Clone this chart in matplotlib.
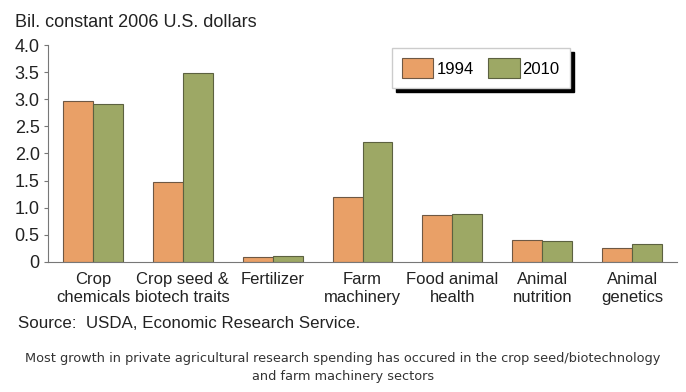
import matplotlib.pyplot as plt
import numpy as np

plt.rcParams["font.family"] = ["Liberation Sans", "DejaVu Sans"]

# data
categories = ["Crop\nchemicals", "Crop seed &\nbiotech traits", "Fertilizer",
              "Farm\nmachinery", "Food animal\nhealth", "Animal\nnutrition",
              "Animal\ngenetics"]
values_1994 = [2.97, 1.47, 0.09, 1.19, 0.86, 0.41, 0.25]
values_2010 = [2.91, 3.48, 0.10, 2.22, 0.88, 0.39, 0.33]
yticks = [0, 0.5, 1.0, 1.5, 2.0, 2.5, 3.0, 3.5, 4.0]
ytick_labels = ["0", "0.5", "1.0", "1.5", "2.0", "2.5", "3.0", "3.5", "4.0"]

fig = plt.figure(figsize=(6.86, 3.92), dpi=100)
ax = fig.add_axes([0.07, 0.332, 0.917, 0.553])

x = np.arange(len(categories))
w = 0.333
ax.bar(x - w / 2, values_1994, w, color="#E9A067", edgecolor="#6e5844",
       linewidth=0.8, label="1994", zorder=2)
ax.bar(x + w / 2, values_2010, w, color="#9DA865", edgecolor="#5c6140",
       linewidth=0.8, label="2010", zorder=2)

ax.set_xlim(-0.5, 6.5)
ax.set_ylim(0, 4.0)
ax.set_yticks(yticks)
ax.set_yticklabels(ytick_labels, fontsize=13, color="#222222")
ax.set_xticks(x)
ax.set_xticklabels(categories, fontsize=12, color="#222222", linespacing=1.3)
ax.tick_params(axis="x", length=0, pad=7)
ax.tick_params(axis="y", length=3, width=0.8, color="#777777", pad=3)

for s in ["top", "right"]:
    ax.spines[s].set_visible(False)
ax.spines["left"].set_color("#777777")
ax.spines["bottom"].set_color("#777777")
ax.spines["left"].set_linewidth(0.8)
ax.spines["bottom"].set_linewidth(0.8)

leg = ax.legend(loc="upper left", bbox_to_anchor=(0.5465, 0.985), ncol=2,
                fontsize=12, frameon=True, fancybox=False,
                shadow={"color": "black", "alpha": 1.0, "ox": 3, "oy": -3},
                handlelength=1.9, handleheight=1.45, handletextpad=0.18,
                columnspacing=0.85, borderpad=0.6, borderaxespad=0)
leg.get_frame().set_edgecolor("#cccccc")
leg.get_frame().set_linewidth(1.0)

fig.text(0.022, 0.93, "Bil. constant 2006 U.S. dollars", fontsize=13,
         color="#222222")
fig.text(0.026, 0.163, "Source:  USDA, Economic Research Service.",
         fontsize=12.2, color="#222222")
fig.text(0.5, 0.022,
         "Most growth in private agricultural research spending has occured in the crop seed/biotechnology\nand farm machinery sectors",
         ha="center", va="bottom", fontsize=9.3, color="#333333",
         family=["DejaVu Sans"], linespacing=1.55)

fig.savefig("out.png", dpi=100)
